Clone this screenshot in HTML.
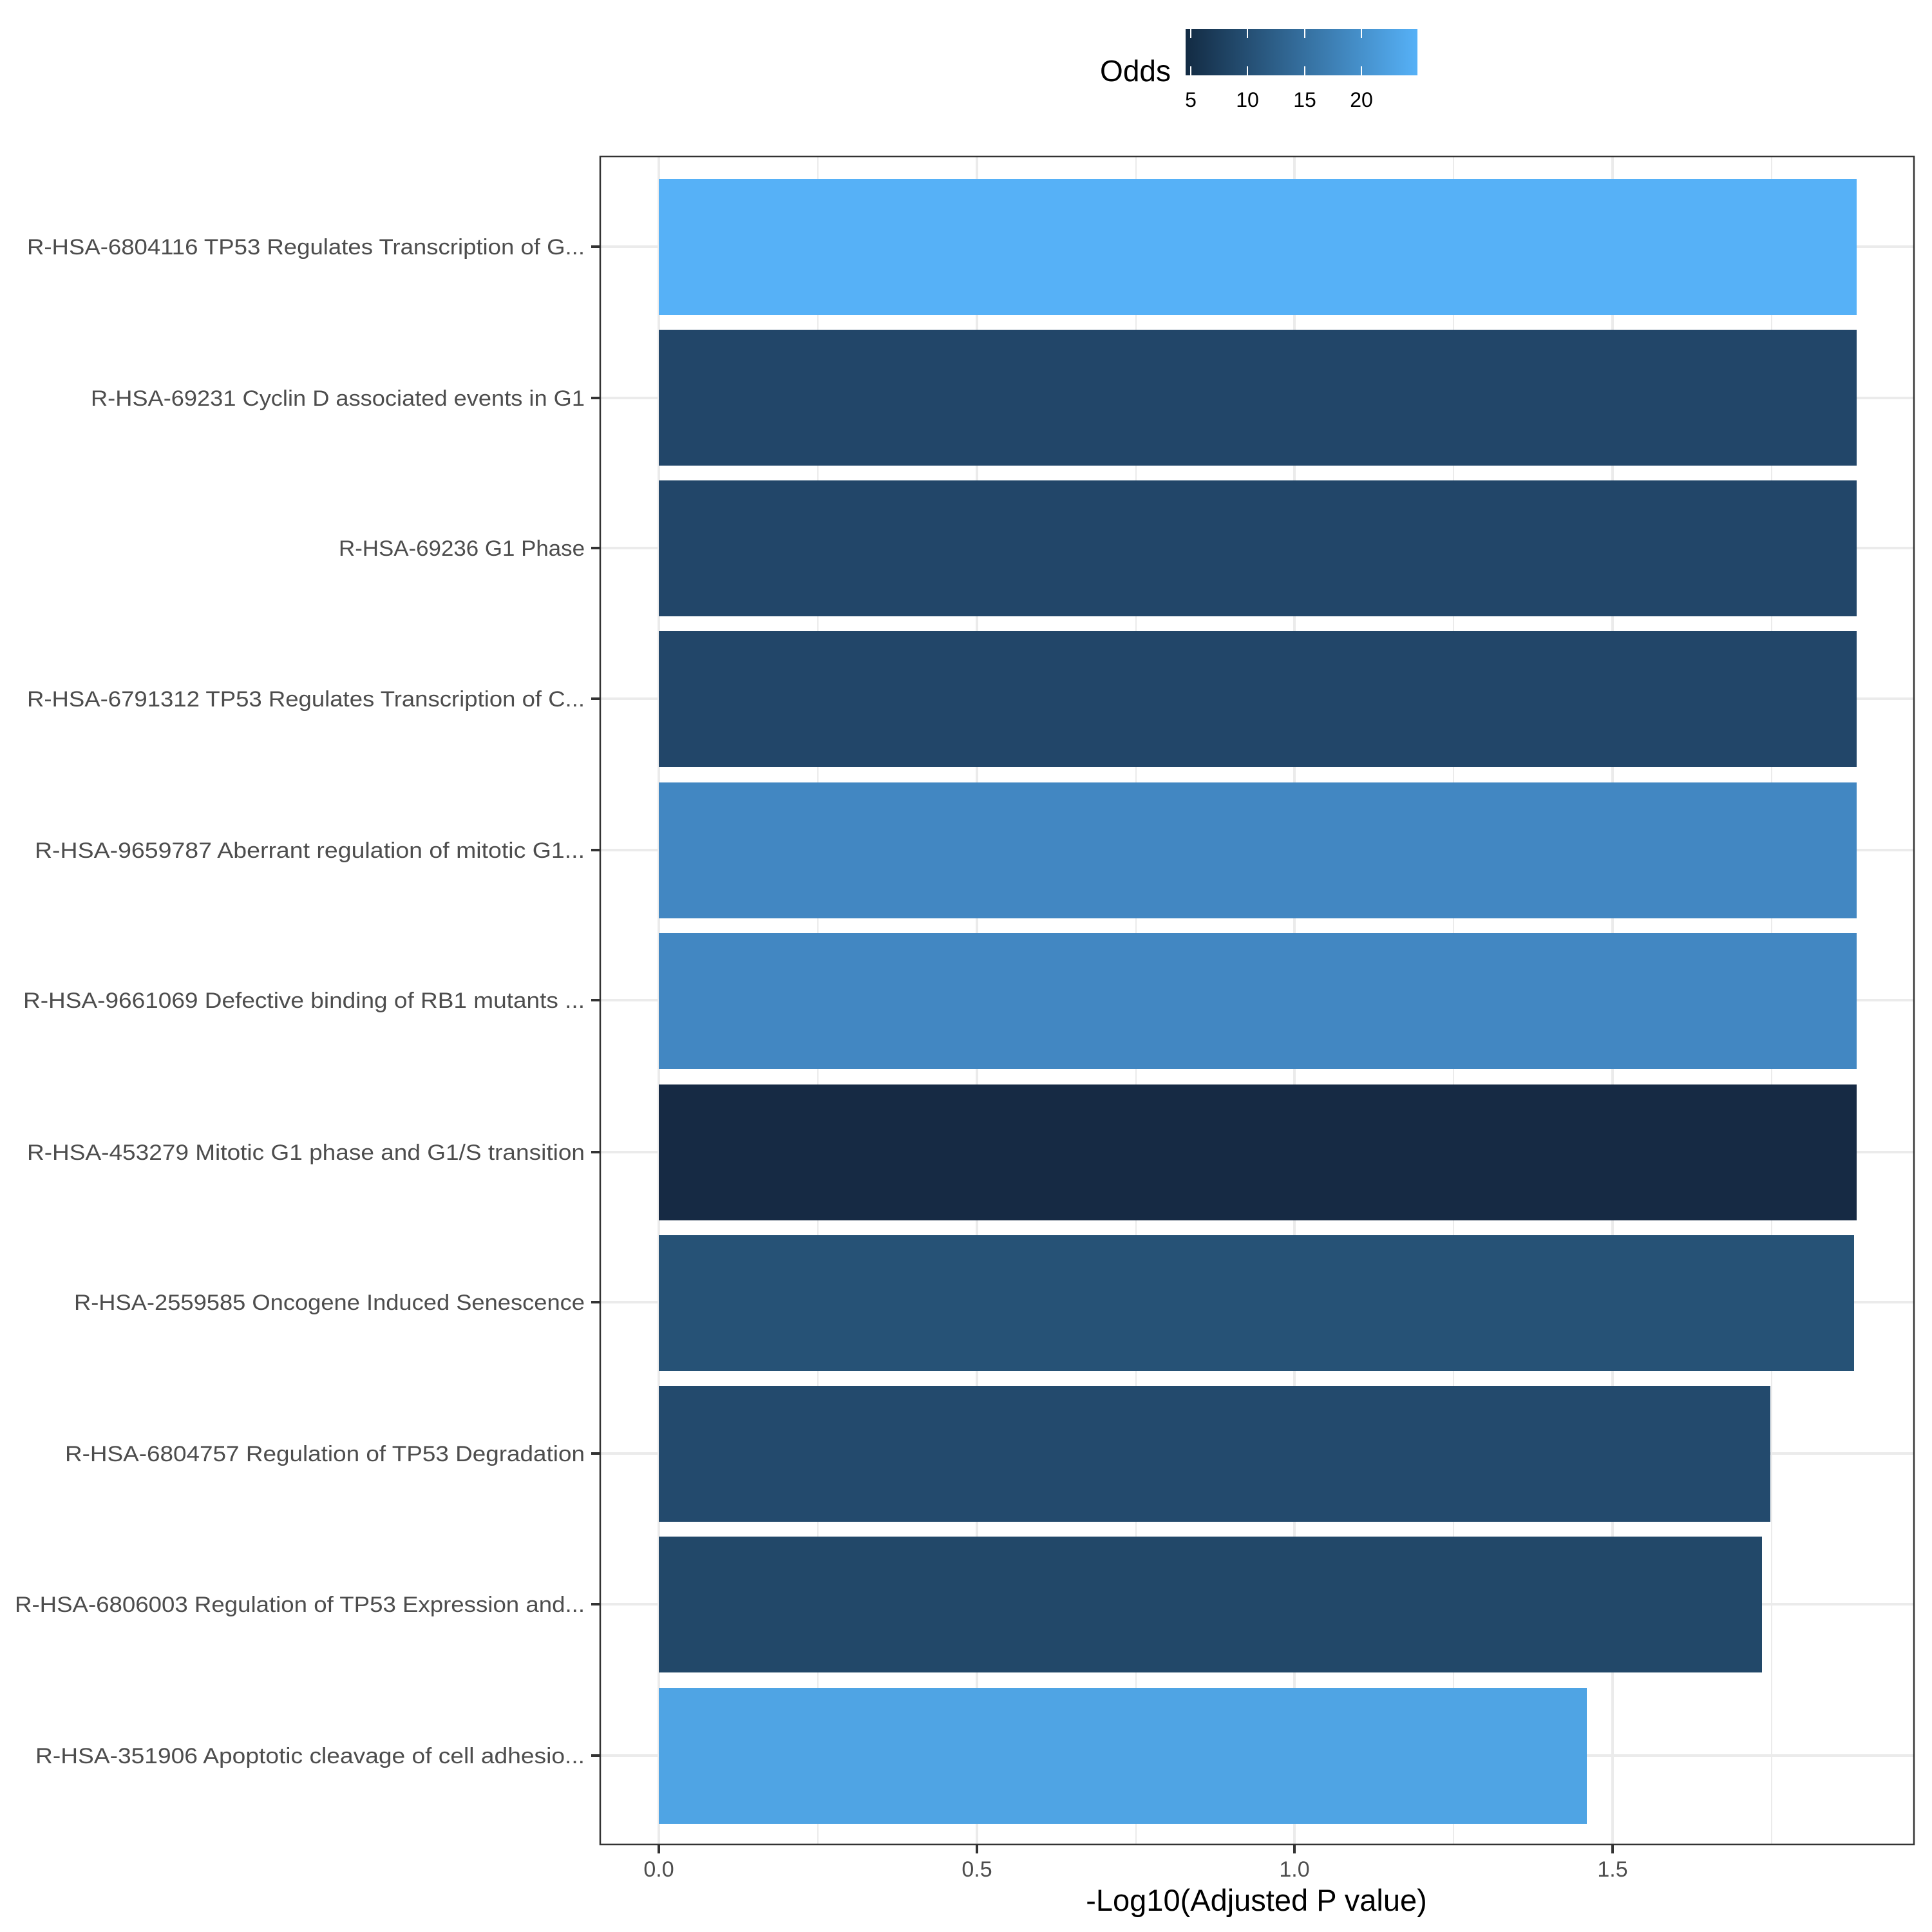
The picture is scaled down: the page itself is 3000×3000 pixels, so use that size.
<!DOCTYPE html>
<html><head><meta charset="utf-8"><style>html,body{margin:0;padding:0;background:#fff}svg{display:block}</style></head>
<body>
<svg width="3000" height="3000" viewBox="0 0 3000 3000" xmlns="http://www.w3.org/2000/svg" font-family="'Liberation Sans', sans-serif">
<defs><linearGradient id="g" x1="0" x2="1" y1="0" y2="0"><stop offset="0" stop-color="#132b43"/><stop offset="1" stop-color="#56b1f7"/></linearGradient></defs>
<rect width="3000" height="3000" fill="#fff"/>
<!-- legend -->
<text x="1818" y="126" font-size="46" text-anchor="end" fill="#000">Odds</text>
<rect x="1841" y="45" width="360" height="72" fill="url(#g)"/>
<g stroke="#fff" stroke-width="2">
<line x1="1849" y1="45" x2="1849" y2="59"/><line x1="1849" y1="103" x2="1849" y2="117"/>
<line x1="1937" y1="45" x2="1937" y2="59"/><line x1="1937" y1="103" x2="1937" y2="117"/>
<line x1="2026" y1="45" x2="2026" y2="59"/><line x1="2026" y1="103" x2="2026" y2="117"/>
<line x1="2114" y1="45" x2="2114" y2="59"/><line x1="2114" y1="103" x2="2114" y2="117"/>
</g>
<g font-size="32" fill="#000" text-anchor="middle">
<text x="1849" y="166">5</text><text x="1937" y="166">10</text><text x="2026" y="166">15</text><text x="2114" y="166">20</text>
</g>
<!-- grid -->
<g stroke="#ebebeb" stroke-width="2">
<line x1="1270" y1="243" x2="1270" y2="2864"/><line x1="1764" y1="243" x2="1764" y2="2864"/><line x1="2257" y1="243" x2="2257" y2="2864"/><line x1="2751" y1="243" x2="2751" y2="2864"/>
</g>
<g stroke="#ebebeb" stroke-width="4">
<line x1="1023" y1="243" x2="1023" y2="2864"/><line x1="1517" y1="243" x2="1517" y2="2864"/><line x1="2010" y1="243" x2="2010" y2="2864"/><line x1="2504" y1="243" x2="2504" y2="2864"/>
<line x1="932" y1="383" x2="2972" y2="383"/><line x1="932" y1="618" x2="2972" y2="618"/><line x1="932" y1="851" x2="2972" y2="851"/><line x1="932" y1="1085" x2="2972" y2="1085"/><line x1="932" y1="1320" x2="2972" y2="1320"/><line x1="932" y1="1553" x2="2972" y2="1553"/><line x1="932" y1="1789" x2="2972" y2="1789"/><line x1="932" y1="2022" x2="2972" y2="2022"/><line x1="932" y1="2257" x2="2972" y2="2257"/><line x1="932" y1="2491" x2="2972" y2="2491"/><line x1="932" y1="2726" x2="2972" y2="2726"/>
</g>
<!-- bars -->
<rect x="1023" y="278" width="1860" height="211" fill="#56b1f7"/>
<rect x="1023" y="512" width="1860" height="211" fill="#224669"/>
<rect x="1023" y="746" width="1860" height="211" fill="#224669"/>
<rect x="1023" y="980" width="1860" height="211" fill="#224669"/>
<rect x="1023" y="1215" width="1860" height="211" fill="#4287c2"/>
<rect x="1023" y="1449" width="1860" height="211" fill="#4287c2"/>
<rect x="1023" y="1684" width="1860" height="211" fill="#162a44"/>
<rect x="1023" y="1918" width="1856" height="211" fill="#265276"/>
<rect x="1023" y="2152" width="1726" height="211" fill="#234a6d"/>
<rect x="1023" y="2386" width="1713" height="211" fill="#224869"/>
<rect x="1023" y="2621" width="1441" height="211" fill="#4fa4e4"/>
<!-- panel border -->
<rect x="932" y="243" width="2040" height="2621" fill="none" stroke="#333" stroke-width="2.5"/>
<!-- ticks -->
<g stroke="#333" stroke-width="4">
<line x1="918" y1="383" x2="932" y2="383"/><line x1="918" y1="618" x2="932" y2="618"/><line x1="918" y1="851" x2="932" y2="851"/><line x1="918" y1="1085" x2="932" y2="1085"/><line x1="918" y1="1320" x2="932" y2="1320"/><line x1="918" y1="1553" x2="932" y2="1553"/><line x1="918" y1="1789" x2="932" y2="1789"/><line x1="918" y1="2022" x2="932" y2="2022"/><line x1="918" y1="2257" x2="932" y2="2257"/><line x1="918" y1="2491" x2="932" y2="2491"/><line x1="918" y1="2726" x2="932" y2="2726"/>
<line x1="1023" y1="2864" x2="1023" y2="2878"/><line x1="1517" y1="2864" x2="1517" y2="2878"/><line x1="2010" y1="2864" x2="2010" y2="2878"/><line x1="2504" y1="2864" x2="2504" y2="2878"/>
</g>
<g font-size="34" fill="#4d4d4d" text-anchor="end">
<text x="908" y="395" textLength="866" lengthAdjust="spacingAndGlyphs">R-HSA-6804116 TP53 Regulates Transcription of G...</text>
<text x="908" y="630" textLength="767" lengthAdjust="spacingAndGlyphs">R-HSA-69231 Cyclin D associated events in G1</text>
<text x="908" y="863" textLength="382" lengthAdjust="spacingAndGlyphs">R-HSA-69236 G1 Phase</text>
<text x="908" y="1097" textLength="866" lengthAdjust="spacingAndGlyphs">R-HSA-6791312 TP53 Regulates Transcription of C...</text>
<text x="908" y="1332" textLength="854" lengthAdjust="spacingAndGlyphs">R-HSA-9659787 Aberrant regulation of mitotic G1...</text>
<text x="908" y="1565" textLength="872" lengthAdjust="spacingAndGlyphs">R-HSA-9661069 Defective binding of RB1 mutants ...</text>
<text x="908" y="1801" textLength="866" lengthAdjust="spacingAndGlyphs">R-HSA-453279 Mitotic G1 phase and G1/S transition</text>
<text x="908" y="2034" textLength="793" lengthAdjust="spacingAndGlyphs">R-HSA-2559585 Oncogene Induced Senescence</text>
<text x="908" y="2269" textLength="807" lengthAdjust="spacingAndGlyphs">R-HSA-6804757 Regulation of TP53 Degradation</text>
<text x="908" y="2503" textLength="885" lengthAdjust="spacingAndGlyphs">R-HSA-6806003 Regulation of TP53 Expression and...</text>
<text x="908" y="2738" textLength="853" lengthAdjust="spacingAndGlyphs">R-HSA-351906 Apoptotic cleavage of cell adhesio...</text>
</g>
<g font-size="34" fill="#4d4d4d" text-anchor="middle">
<text x="1023" y="2914">0.0</text><text x="1517" y="2914">0.5</text><text x="2010" y="2914">1.0</text><text x="2504" y="2914">1.5</text>
</g>
<text x="1951" y="2967" font-size="47" text-anchor="middle" fill="#000">-Log10(Adjusted P value)</text>
</svg>
</body></html>
